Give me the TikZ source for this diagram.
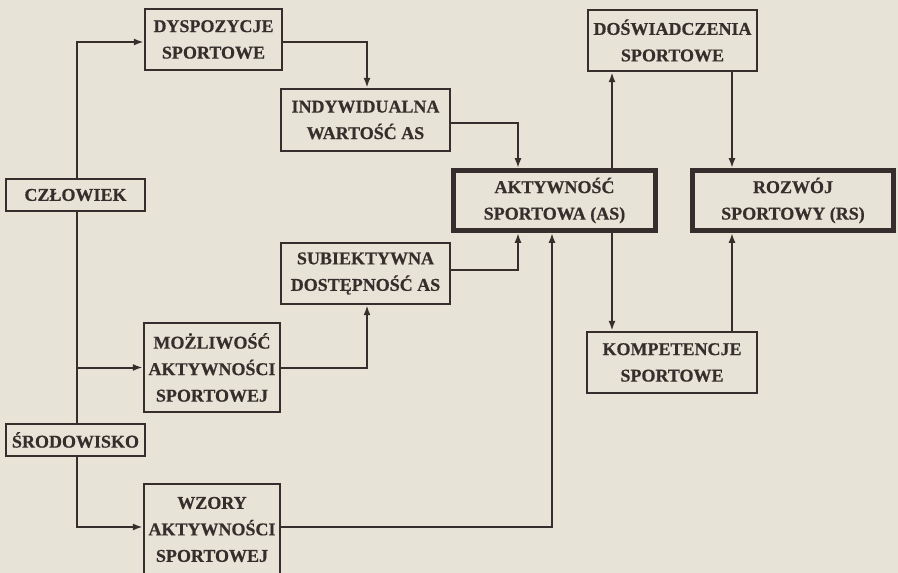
\documentclass[tikz,border=0pt]{standalone}
\usepackage{fontspec}
\setmainfont{Liberation Serif}[BoldFeatures={FakeBold=0.6}]
\usetikzlibrary{arrows.meta}
\definecolor{paper}{HTML}{E8E3D7}
\definecolor{ink}{HTML}{352E2C}
\tikzset{
  box/.style={draw=ink, line width=2.3pt, rectangle, inner sep=0pt, align=center,
    text=ink, font=\bfseries\fontsize{18}{26.5}\selectfont},
  mainbox/.style={box, line width=4.6pt},
  arr/.style={draw=ink, line width=2pt, -{Latex[length=10pt,width=7pt]}},
  ln/.style={draw=ink, line width=2pt},
}
\begin{document}
\begin{tikzpicture}[x=1pt,y=-1pt]
\fill[paper] (0,0) rectangle (898,573);
\useasboundingbox (0,0) rectangle (898,573);
\clip (0,0) rectangle (898,573);

\node[box, minimum width=137pt, minimum height=61pt] (dys) at (213.5,39.5) {DYSPOZYCJE\\SPORTOWE};
\node[box, minimum width=169pt, minimum height=62pt] (ind) at (365.5,120) {INDYWIDUALNA\\WARTOŚĆ AS};
\node[box, minimum width=139pt, minimum height=32pt] (czl) at (75.5,195) {CZŁOWIEK};
\node[box, minimum width=169pt, minimum height=61pt] (sub) at (365.5,273.5) {SUBIEKTYWNA\\DOSTĘPNOŚĆ AS};
\node[box, minimum width=136pt, minimum height=89pt] (moz) at (212,367.5) {MOŻLIWOŚĆ\\AKTYWNOŚCI\\SPORTOWEJ};
\node[box, minimum width=139pt, minimum height=32pt] (sro) at (75.5,440) {ŚRODOWISKO};
\node[box, minimum width=136pt, minimum height=91pt] (wzo) at (212,529.5) {WZORY\\AKTYWNOŚCI\\SPORTOWEJ};
\node[mainbox, minimum width=202pt, minimum height=60pt] (as) at (554.5,200.5) {AKTYWNOŚĆ\\SPORTOWA (AS)};
\node[box, minimum width=169pt, minimum height=61pt] (dos) at (672.5,40.5) {DOŚWIADCZENIA\\SPORTOWE};
\node[mainbox, minimum width=201pt, minimum height=60pt] (roz) at (793,200.5) {ROZWÓJ\\SPORTOWY (RS)};
\node[box, minimum width=170pt, minimum height=61pt] (kom) at (672,362.5) {KOMPETENCJE\\SPORTOWE};

\coordinate (br) at (77,367.5);

% left side
\draw[arr] ([xshift=1.5pt]czl.north) |- ([yshift=-2.5pt]dys.west);
\draw[ln] ([xshift=1.5pt]czl.south) -- ([xshift=1.5pt]sro.north);
\draw[arr] (br) -- (moz.west);
\draw[arr] ([xshift=1.5pt]sro.south) |- ([yshift=2.5pt]wzo.west);

% middle
\draw[arr] ([yshift=-2.5pt]dys.east) -| ([xshift=1.5pt]ind.north);
\draw[arr] ([yshift=-3pt]ind.east) -| ([xshift=-36.5pt]as.north);
\draw[arr] ([yshift=3.5pt]sub.east) -| ([xshift=-36.5pt]as.south);
\draw[arr] (moz.east) -| ([xshift=1.5pt]sub.south);
\draw[arr] ([yshift=2.5pt]wzo.east) -| ([xshift=-2.5pt]as.south);

% right side
\draw[arr] ([xshift=57.5pt]as.north) -- ([xshift=-60.5pt]dos.south);
\draw[arr] ([xshift=57.5pt]as.south) -- ([xshift=-60pt]kom.north);
\draw[arr] ([xshift=59.5pt]dos.south) -- ([xshift=-61pt]roz.north);
\draw[arr] ([xshift=60pt]kom.north) -- ([xshift=-61pt]roz.south);
\end{tikzpicture}
\end{document}
